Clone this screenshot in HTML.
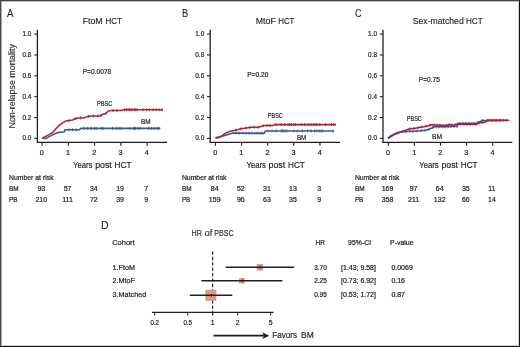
<!DOCTYPE html>
<html><head><meta charset="utf-8"><style>
html,body{margin:0;padding:0;background:#fff;}
body{width:520px;height:347px;overflow:hidden;position:relative;}
svg{position:absolute;left:0;top:0;will-change:transform;}
svg text{font-family:"Liberation Sans",sans-serif;fill:#231f20;stroke:#231f20;}
.b{position:absolute;}
</style></head><body>
<svg width="520" height="347" viewBox="0 0 520 347">
<text x="7" y="16.8" font-size="10.4" stroke-width="0.1" textLength="6.5" lengthAdjust="spacingAndGlyphs">A</text>
<text x="82.7" y="24.0" font-size="9.6" stroke-width="0.15" textLength="20.0" lengthAdjust="spacingAndGlyphs">FtoM</text>
<text x="105.4" y="24.0" font-size="9.6" stroke-width="0.15" textLength="16.4" lengthAdjust="spacingAndGlyphs">HCT</text>
<text x="82.7" y="73.5" font-size="7.6" stroke-width="0.22" textLength="28.6" lengthAdjust="spacingAndGlyphs">P=0.0078</text>
<line x1="37.4" y1="29.8" x2="37.4" y2="142.4" stroke="#231f20" stroke-width="1.3"/>
<line x1="34.2" y1="138.4" x2="37.4" y2="138.4" stroke="#231f20" stroke-width="1.1"/>
<text x="31.4" y="140.4" font-size="7.4" stroke-width="0.22" text-anchor="end" textLength="8.9" lengthAdjust="spacingAndGlyphs">0.0</text>
<line x1="34.2" y1="117.54" x2="37.4" y2="117.54" stroke="#231f20" stroke-width="1.1"/>
<text x="31.4" y="119.54" font-size="7.4" stroke-width="0.22" text-anchor="end" textLength="8.9" lengthAdjust="spacingAndGlyphs">0.2</text>
<line x1="34.2" y1="96.68" x2="37.4" y2="96.68" stroke="#231f20" stroke-width="1.1"/>
<text x="31.4" y="98.68" font-size="7.4" stroke-width="0.22" text-anchor="end" textLength="8.9" lengthAdjust="spacingAndGlyphs">0.4</text>
<line x1="34.2" y1="75.82" x2="37.4" y2="75.82" stroke="#231f20" stroke-width="1.1"/>
<text x="31.4" y="77.82" font-size="7.4" stroke-width="0.22" text-anchor="end" textLength="8.9" lengthAdjust="spacingAndGlyphs">0.6</text>
<line x1="34.2" y1="54.96" x2="37.4" y2="54.96" stroke="#231f20" stroke-width="1.1"/>
<text x="31.4" y="56.96" font-size="7.4" stroke-width="0.22" text-anchor="end" textLength="8.9" lengthAdjust="spacingAndGlyphs">0.8</text>
<line x1="34.2" y1="34.1" x2="37.4" y2="34.1" stroke="#231f20" stroke-width="1.1"/>
<text x="31.4" y="36.1" font-size="7.4" stroke-width="0.22" text-anchor="end" textLength="8.9" lengthAdjust="spacingAndGlyphs">1.0</text>
<line x1="36.75" y1="142.4" x2="167" y2="142.4" stroke="#231f20" stroke-width="1.3"/>
<line x1="42.1" y1="142.4" x2="42.1" y2="145.7" stroke="#231f20" stroke-width="1.1"/>
<text x="41.9" y="155.4" font-size="7.3" stroke-width="0.22" text-anchor="middle">0</text>
<line x1="68.35" y1="142.4" x2="68.35" y2="145.7" stroke="#231f20" stroke-width="1.1"/>
<text x="68.15" y="155.4" font-size="7.3" stroke-width="0.22" text-anchor="middle">1</text>
<line x1="94.6" y1="142.4" x2="94.6" y2="145.7" stroke="#231f20" stroke-width="1.1"/>
<text x="94.4" y="155.4" font-size="7.3" stroke-width="0.22" text-anchor="middle">2</text>
<line x1="120.85" y1="142.4" x2="120.85" y2="145.7" stroke="#231f20" stroke-width="1.1"/>
<text x="120.65" y="155.4" font-size="7.3" stroke-width="0.22" text-anchor="middle">3</text>
<line x1="147.1" y1="142.4" x2="147.1" y2="145.7" stroke="#231f20" stroke-width="1.1"/>
<text x="146.9" y="155.4" font-size="7.3" stroke-width="0.22" text-anchor="middle">4</text>
<text x="73.1" y="168.2" font-size="9.6" stroke-width="0.2" textLength="19.3" lengthAdjust="spacingAndGlyphs">Years</text>
<text x="95.2" y="168.2" font-size="9.6" stroke-width="0.2" textLength="16.6" lengthAdjust="spacingAndGlyphs">post</text>
<text x="114.6" y="168.2" font-size="9.6" stroke-width="0.2" textLength="16.8" lengthAdjust="spacingAndGlyphs">HCT</text>
<text x="9" y="179.8" font-size="7" stroke-width="0.22" textLength="44.6" lengthAdjust="spacingAndGlyphs">Number at risk</text>
<text x="9" y="190.8" font-size="7" stroke-width="0.22" textLength="9.6" lengthAdjust="spacingAndGlyphs">BM</text>
<text x="9" y="201.7" font-size="7" stroke-width="0.22" textLength="8.4" lengthAdjust="spacingAndGlyphs">PB</text>
<text x="41.3" y="190.8" font-size="7" stroke-width="0.22" text-anchor="middle">93</text>
<text x="41.3" y="201.7" font-size="7" stroke-width="0.22" text-anchor="middle">210</text>
<text x="67.55" y="190.8" font-size="7" stroke-width="0.22" text-anchor="middle">57</text>
<text x="67.55" y="201.7" font-size="7" stroke-width="0.22" text-anchor="middle">111</text>
<text x="93.8" y="190.8" font-size="7" stroke-width="0.22" text-anchor="middle">34</text>
<text x="93.8" y="201.7" font-size="7" stroke-width="0.22" text-anchor="middle">72</text>
<text x="120.05" y="190.8" font-size="7" stroke-width="0.22" text-anchor="middle">19</text>
<text x="120.05" y="201.7" font-size="7" stroke-width="0.22" text-anchor="middle">39</text>
<text x="146.3" y="190.8" font-size="7" stroke-width="0.22" text-anchor="middle">7</text>
<text x="146.3" y="201.7" font-size="7" stroke-width="0.22" text-anchor="middle">9</text>
<text x="182.0" y="16.8" font-size="10.4" stroke-width="0.1" textLength="6.2" lengthAdjust="spacingAndGlyphs">B</text>
<text x="255.8" y="24.0" font-size="9.6" stroke-width="0.15" textLength="20.0" lengthAdjust="spacingAndGlyphs">MtoF</text>
<text x="278.3" y="24.0" font-size="9.6" stroke-width="0.15" textLength="16.1" lengthAdjust="spacingAndGlyphs">HCT</text>
<text x="247.2" y="76.6" font-size="7.6" stroke-width="0.22" textLength="21.2" lengthAdjust="spacingAndGlyphs">P=0.20</text>
<line x1="210.2" y1="29.8" x2="210.2" y2="142.4" stroke="#231f20" stroke-width="1.3"/>
<line x1="207.0" y1="138.4" x2="210.2" y2="138.4" stroke="#231f20" stroke-width="1.1"/>
<text x="204.2" y="140.4" font-size="7.4" stroke-width="0.22" text-anchor="end" textLength="8.9" lengthAdjust="spacingAndGlyphs">0.0</text>
<line x1="207.0" y1="117.54" x2="210.2" y2="117.54" stroke="#231f20" stroke-width="1.1"/>
<text x="204.2" y="119.54" font-size="7.4" stroke-width="0.22" text-anchor="end" textLength="8.9" lengthAdjust="spacingAndGlyphs">0.2</text>
<line x1="207.0" y1="96.68" x2="210.2" y2="96.68" stroke="#231f20" stroke-width="1.1"/>
<text x="204.2" y="98.68" font-size="7.4" stroke-width="0.22" text-anchor="end" textLength="8.9" lengthAdjust="spacingAndGlyphs">0.4</text>
<line x1="207.0" y1="75.82" x2="210.2" y2="75.82" stroke="#231f20" stroke-width="1.1"/>
<text x="204.2" y="77.82" font-size="7.4" stroke-width="0.22" text-anchor="end" textLength="8.9" lengthAdjust="spacingAndGlyphs">0.6</text>
<line x1="207.0" y1="54.96" x2="210.2" y2="54.96" stroke="#231f20" stroke-width="1.1"/>
<text x="204.2" y="56.96" font-size="7.4" stroke-width="0.22" text-anchor="end" textLength="8.9" lengthAdjust="spacingAndGlyphs">0.8</text>
<line x1="207.0" y1="34.1" x2="210.2" y2="34.1" stroke="#231f20" stroke-width="1.1"/>
<text x="204.2" y="36.1" font-size="7.4" stroke-width="0.22" text-anchor="end" textLength="8.9" lengthAdjust="spacingAndGlyphs">1.0</text>
<line x1="209.55" y1="142.4" x2="340" y2="142.4" stroke="#231f20" stroke-width="1.3"/>
<line x1="215.5" y1="142.4" x2="215.5" y2="145.7" stroke="#231f20" stroke-width="1.1"/>
<text x="215.3" y="155.4" font-size="7.3" stroke-width="0.22" text-anchor="middle">0</text>
<line x1="241.6" y1="142.4" x2="241.6" y2="145.7" stroke="#231f20" stroke-width="1.1"/>
<text x="241.4" y="155.4" font-size="7.3" stroke-width="0.22" text-anchor="middle">1</text>
<line x1="267.7" y1="142.4" x2="267.7" y2="145.7" stroke="#231f20" stroke-width="1.1"/>
<text x="267.5" y="155.4" font-size="7.3" stroke-width="0.22" text-anchor="middle">2</text>
<line x1="293.8" y1="142.4" x2="293.8" y2="145.7" stroke="#231f20" stroke-width="1.1"/>
<text x="293.6" y="155.4" font-size="7.3" stroke-width="0.22" text-anchor="middle">3</text>
<line x1="319.9" y1="142.4" x2="319.9" y2="145.7" stroke="#231f20" stroke-width="1.1"/>
<text x="319.7" y="155.4" font-size="7.3" stroke-width="0.22" text-anchor="middle">4</text>
<text x="246.5" y="168.2" font-size="9.6" stroke-width="0.2" textLength="19.3" lengthAdjust="spacingAndGlyphs">Years</text>
<text x="268.6" y="168.2" font-size="9.6" stroke-width="0.2" textLength="16.6" lengthAdjust="spacingAndGlyphs">post</text>
<text x="288.0" y="168.2" font-size="9.6" stroke-width="0.2" textLength="16.8" lengthAdjust="spacingAndGlyphs">HCT</text>
<text x="181.9" y="179.8" font-size="7" stroke-width="0.22" textLength="44.6" lengthAdjust="spacingAndGlyphs">Number at risk</text>
<text x="181.9" y="190.8" font-size="7" stroke-width="0.22" textLength="9.6" lengthAdjust="spacingAndGlyphs">BM</text>
<text x="181.9" y="201.7" font-size="7" stroke-width="0.22" textLength="8.4" lengthAdjust="spacingAndGlyphs">PB</text>
<text x="214.7" y="190.8" font-size="7" stroke-width="0.22" text-anchor="middle">84</text>
<text x="214.7" y="201.7" font-size="7" stroke-width="0.22" text-anchor="middle">159</text>
<text x="240.8" y="190.8" font-size="7" stroke-width="0.22" text-anchor="middle">52</text>
<text x="240.8" y="201.7" font-size="7" stroke-width="0.22" text-anchor="middle">96</text>
<text x="266.9" y="190.8" font-size="7" stroke-width="0.22" text-anchor="middle">31</text>
<text x="266.9" y="201.7" font-size="7" stroke-width="0.22" text-anchor="middle">63</text>
<text x="293.0" y="190.8" font-size="7" stroke-width="0.22" text-anchor="middle">13</text>
<text x="293.0" y="201.7" font-size="7" stroke-width="0.22" text-anchor="middle">35</text>
<text x="319.1" y="190.8" font-size="7" stroke-width="0.22" text-anchor="middle">3</text>
<text x="319.1" y="201.7" font-size="7" stroke-width="0.22" text-anchor="middle">9</text>
<text x="354.9" y="16.8" font-size="10.4" stroke-width="0.1" textLength="6.5" lengthAdjust="spacingAndGlyphs">C</text>
<text x="412.8" y="24.0" font-size="9.6" stroke-width="0.15" textLength="50.9" lengthAdjust="spacingAndGlyphs">Sex-matched</text>
<text x="465.9" y="24.0" font-size="9.6" stroke-width="0.15" textLength="16.7" lengthAdjust="spacingAndGlyphs">HCT</text>
<text x="418.8" y="81.6" font-size="7.6" stroke-width="0.22" textLength="21.2" lengthAdjust="spacingAndGlyphs">P=0.75</text>
<line x1="383.0" y1="29.8" x2="383.0" y2="142.4" stroke="#231f20" stroke-width="1.3"/>
<line x1="379.8" y1="138.4" x2="383.0" y2="138.4" stroke="#231f20" stroke-width="1.1"/>
<text x="377.0" y="140.4" font-size="7.4" stroke-width="0.22" text-anchor="end" textLength="8.9" lengthAdjust="spacingAndGlyphs">0.0</text>
<line x1="379.8" y1="117.54" x2="383.0" y2="117.54" stroke="#231f20" stroke-width="1.1"/>
<text x="377.0" y="119.54" font-size="7.4" stroke-width="0.22" text-anchor="end" textLength="8.9" lengthAdjust="spacingAndGlyphs">0.2</text>
<line x1="379.8" y1="96.68" x2="383.0" y2="96.68" stroke="#231f20" stroke-width="1.1"/>
<text x="377.0" y="98.68" font-size="7.4" stroke-width="0.22" text-anchor="end" textLength="8.9" lengthAdjust="spacingAndGlyphs">0.4</text>
<line x1="379.8" y1="75.82" x2="383.0" y2="75.82" stroke="#231f20" stroke-width="1.1"/>
<text x="377.0" y="77.82" font-size="7.4" stroke-width="0.22" text-anchor="end" textLength="8.9" lengthAdjust="spacingAndGlyphs">0.6</text>
<line x1="379.8" y1="54.96" x2="383.0" y2="54.96" stroke="#231f20" stroke-width="1.1"/>
<text x="377.0" y="56.96" font-size="7.4" stroke-width="0.22" text-anchor="end" textLength="8.9" lengthAdjust="spacingAndGlyphs">0.8</text>
<line x1="379.8" y1="34.1" x2="383.0" y2="34.1" stroke="#231f20" stroke-width="1.1"/>
<text x="377.0" y="36.1" font-size="7.4" stroke-width="0.22" text-anchor="end" textLength="8.9" lengthAdjust="spacingAndGlyphs">1.0</text>
<line x1="382.35" y1="142.4" x2="512.3" y2="142.4" stroke="#231f20" stroke-width="1.3"/>
<line x1="388.3" y1="142.4" x2="388.3" y2="145.7" stroke="#231f20" stroke-width="1.1"/>
<text x="388.1" y="155.4" font-size="7.3" stroke-width="0.22" text-anchor="middle">0</text>
<line x1="414.4" y1="142.4" x2="414.4" y2="145.7" stroke="#231f20" stroke-width="1.1"/>
<text x="414.2" y="155.4" font-size="7.3" stroke-width="0.22" text-anchor="middle">1</text>
<line x1="440.5" y1="142.4" x2="440.5" y2="145.7" stroke="#231f20" stroke-width="1.1"/>
<text x="440.3" y="155.4" font-size="7.3" stroke-width="0.22" text-anchor="middle">2</text>
<line x1="466.6" y1="142.4" x2="466.6" y2="145.7" stroke="#231f20" stroke-width="1.1"/>
<text x="466.4" y="155.4" font-size="7.3" stroke-width="0.22" text-anchor="middle">3</text>
<line x1="492.7" y1="142.4" x2="492.7" y2="145.7" stroke="#231f20" stroke-width="1.1"/>
<text x="492.5" y="155.4" font-size="7.3" stroke-width="0.22" text-anchor="middle">4</text>
<text x="419.3" y="168.2" font-size="9.6" stroke-width="0.2" textLength="19.3" lengthAdjust="spacingAndGlyphs">Years</text>
<text x="441.4" y="168.2" font-size="9.6" stroke-width="0.2" textLength="16.6" lengthAdjust="spacingAndGlyphs">post</text>
<text x="460.8" y="168.2" font-size="9.6" stroke-width="0.2" textLength="16.8" lengthAdjust="spacingAndGlyphs">HCT</text>
<text x="354.9" y="179.8" font-size="7" stroke-width="0.22" textLength="44.6" lengthAdjust="spacingAndGlyphs">Number at risk</text>
<text x="354.9" y="190.8" font-size="7" stroke-width="0.22" textLength="9.6" lengthAdjust="spacingAndGlyphs">BM</text>
<text x="354.9" y="201.7" font-size="7" stroke-width="0.22" textLength="8.4" lengthAdjust="spacingAndGlyphs">PB</text>
<text x="387.5" y="190.8" font-size="7" stroke-width="0.22" text-anchor="middle">169</text>
<text x="387.5" y="201.7" font-size="7" stroke-width="0.22" text-anchor="middle">358</text>
<text x="413.6" y="190.8" font-size="7" stroke-width="0.22" text-anchor="middle">97</text>
<text x="413.6" y="201.7" font-size="7" stroke-width="0.22" text-anchor="middle">211</text>
<text x="439.7" y="190.8" font-size="7" stroke-width="0.22" text-anchor="middle">64</text>
<text x="439.7" y="201.7" font-size="7" stroke-width="0.22" text-anchor="middle">132</text>
<text x="465.8" y="190.8" font-size="7" stroke-width="0.22" text-anchor="middle">35</text>
<text x="465.8" y="201.7" font-size="7" stroke-width="0.22" text-anchor="middle">66</text>
<text x="491.9" y="190.8" font-size="7" stroke-width="0.22" text-anchor="middle">11</text>
<text x="491.9" y="201.7" font-size="7" stroke-width="0.22" text-anchor="middle">14</text>
<text x="0" y="0" font-size="9.5" stroke-width="0.12" transform="translate(15.2,128.5) rotate(-90)" textLength="84.4" lengthAdjust="spacingAndGlyphs">Non-relapse mortality</text>
<polyline points="43.2,138.6 46.0,138.4 50.7,135.9 55.3,133.5 59.9,132.2 63.6,132.1 64.5,131.6 65.0,129.8 79.4,129.8 80.6,128.4 160.3,128.4" fill="none" stroke="#375a8e" stroke-width="1.55" stroke-linejoin="round"/>
<path d="M69.0 128.3v3M72.6 128.3v3M76.0 128.3v3M84.1 126.9v3M87.6 126.9v3M91.0 126.9v3M94.5 126.9v3M96.3 126.9v3M101.7 126.9v3M103.1 126.9v3M112.5 126.9v3M116.5 126.9v3M119.2 126.9v3M121.2 126.9v3M129.4 126.9v3M133.4 126.9v3M134.0 126.9v3M135.4 126.9v3M138.1 126.9v3M140.1 126.9v3M148.8 126.9v3M151.5 126.9v3M154.2 126.9v3M156.9 126.9v3M158.9 126.9v3" stroke="#375a8e" stroke-width="0.9" fill="none"/>
<polyline points="42.0,138.4 49.5,134.4 53.0,132.1 57.6,126.9 62.2,123.2 65.7,121.1 69.1,120.6 72.6,120.0 74.9,118.8 78.4,117.9 84.1,117.9 87.6,116.5 93.4,116.0 100.4,115.9 102.4,114.5 105.8,113.5 108.5,111.0 111.2,110.5 121.2,110.5 123.3,109.7 163.0,109.7" fill="none" stroke="#a32539" stroke-width="1.55" stroke-linejoin="round"/>
<path d="M68.6 119.2v3M76.0 117.0v3M80.7 116.4v3M88.7 114.9v3M93.4 114.5v3M98.0 114.4v3M101.0 114.0v3M106.0 111.8v3M113.0 109.0v3M117.0 109.0v3M124.6 108.2v3M126.3 108.2v3M128.0 108.2v3M129.4 108.2v3M130.9 108.2v3M132.3 108.2v3M134.7 108.2v3M135.7 108.2v3M137.1 108.2v3M142.9 108.2v3M146.7 108.2v3M149.6 108.2v3M153.0 108.2v3M156.3 108.2v3M159.2 108.2v3M162.1 108.2v3" stroke="#a32539" stroke-width="0.9" fill="none"/>
<polyline points="215.4,137.8 220.8,136.6 224.8,135.6 228.8,134.2 232.9,133.1 264.5,133.2 265.2,130.9 334.0,130.9" fill="none" stroke="#375a8e" stroke-width="1.55" stroke-linejoin="round"/>
<path d="M236.0 131.6v3M239.0 131.6v3M243.0 131.6v3M246.0 131.6v3M249.0 131.7v3M252.0 131.7v3M255.0 131.7v3M257.0 131.7v3M259.0 131.7v3M261.0 131.7v3M263.0 131.7v3M268.0 129.4v3M272.0 129.4v3M276.0 129.4v3M281.2 129.4v3M282.3 129.4v3M283.5 129.4v3M285.2 129.4v3M286.9 129.4v3M293.8 129.4v3M297.3 129.4v3M302.5 129.4v3M307.7 129.4v3M311.1 129.4v3M314.6 129.4v3M316.9 129.4v3M319.2 129.4v3M320.9 129.4v3M322.7 129.4v3M333.0 129.4v3" stroke="#375a8e" stroke-width="0.9" fill="none"/>
<polyline points="215.4,138.3 219.4,137.6 222.1,135.6 226.2,132.9 230.2,131.3 235.6,130.2 241.0,128.8 246.3,127.9 251.7,127.2 258.5,127.2 262.5,125.9 264.6,125.5 272.7,125.5 274.4,124.6 336.0,124.6" fill="none" stroke="#a32539" stroke-width="1.55" stroke-linejoin="round"/>
<path d="M236.0 128.6v3M241.0 127.3v3M246.0 126.5v3M250.0 125.9v3M254.0 125.7v3M258.0 125.7v3M263.0 124.3v3M267.0 124.0v3M270.0 124.0v3M276.0 123.1v3M281.2 123.1v3M284.6 123.1v3M288.1 123.1v3M289.8 123.1v3M291.5 123.1v3M293.8 123.1v3M295.6 123.1v3M301.3 123.1v3M304.8 123.1v3M308.3 123.1v3M311.1 123.1v3M313.4 123.1v3M315.2 123.1v3M316.9 123.1v3M319.8 123.1v3M325.6 123.1v3M331.3 123.1v3M333.6 123.1v3" stroke="#a32539" stroke-width="0.9" fill="none"/>
<polyline points="388.4,138.3 393.8,134.9 400.5,132.2 408.6,131.3 412.6,131.3 418.0,130.9 426.1,130.2 431.5,128.2 434.1,126.8 445.0,126.8 457.1,126.3 458.1,123.5 476.7,123.3 480.7,121.3 482.3,120.3 484.7,120.6 487.2,120.5 504.2,120.5" fill="none" stroke="#375a8e" stroke-width="1.55" stroke-linejoin="round"/>
<path d="M406.0 130.1v3M410.0 129.8v3M413.0 129.8v3M417.0 129.5v3M421.0 129.1v3M425.0 128.8v3M429.0 127.6v3M433.0 125.9v3M436.0 125.3v3M439.0 125.3v3M442.0 125.3v3M445.0 125.3v3M448.0 125.2v3M451.0 125.1v3M454.0 124.9v3M457.0 124.8v3M460.0 122.0v3M463.0 121.9v3M466.0 121.9v3M469.0 121.9v3M472.0 121.9v3M475.0 121.8v3M478.0 121.1v3M482.0 119.0v3M488.0 119.0v3M492.0 119.0v3M496.0 119.0v3M500.0 119.0v3" stroke="#375a8e" stroke-width="0.9" fill="none"/>
<polyline points="387.7,138.3 391.1,135.6 396.5,132.9 403.2,130.9 409.9,128.8 415.3,128.2 420.7,127.2 427.4,125.9 431.5,124.8 445.0,125.5 450.0,124.6 453.2,125.2 457.3,124.1 476.7,124.1 478.3,122.9 482.3,122.5 485.5,122.1 487.2,120.2 509.2,120.2" fill="none" stroke="#a32539" stroke-width="1.55" stroke-linejoin="round"/>
<path d="M410.0 127.3v3M414.0 126.8v3M418.0 126.2v3M422.0 125.4v3M426.0 124.7v3M430.0 123.7v3M434.0 123.4v3M437.0 123.6v3M440.0 123.7v3M443.0 123.9v3M446.0 123.8v3M449.0 123.3v3M452.0 123.5v3M455.0 123.2v3M458.0 122.6v3M461.0 122.6v3M464.0 122.6v3M467.0 122.6v3M470.0 122.6v3M473.0 122.6v3M476.0 122.6v3M479.0 121.3v3M483.0 120.9v3M488.0 118.7v3M491.0 118.7v3M494.0 118.7v3M497.0 118.7v3M500.0 118.7v3M503.0 118.7v3M506.0 118.7v3" stroke="#a32539" stroke-width="0.9" fill="none"/>
<text x="96.9" y="105.8" font-size="7.4" stroke-width="0.22" textLength="15.3" lengthAdjust="spacingAndGlyphs">PBSC</text>
<text x="141.1" y="123.9" font-size="7.4" stroke-width="0.22" textLength="9.6" lengthAdjust="spacingAndGlyphs">BM</text>
<text x="267.8" y="118.3" font-size="7.4" stroke-width="0.22" textLength="15" lengthAdjust="spacingAndGlyphs">PBSC</text>
<text x="296.9" y="140.2" font-size="7.4" stroke-width="0.22" textLength="9.3" lengthAdjust="spacingAndGlyphs">BM</text>
<text x="406.8" y="120.6" font-size="7.4" stroke-width="0.22" textLength="15" lengthAdjust="spacingAndGlyphs">PBSC</text>
<text x="432" y="138.7" font-size="7.4" stroke-width="0.22" textLength="10" lengthAdjust="spacingAndGlyphs">BM</text>
<text x="101.0" y="228.5" font-size="10.4" stroke-width="0.1" textLength="7.6" lengthAdjust="spacingAndGlyphs">D</text>
<text x="112.2" y="245.4" font-size="7.6" stroke-width="0.22" textLength="22.5" lengthAdjust="spacingAndGlyphs">Cohort</text>
<text x="191.5" y="236.1" font-size="8.9" stroke-width="0.12" textLength="10.5" lengthAdjust="spacingAndGlyphs">HR</text>
<text x="204.5" y="236.1" font-size="8.9" stroke-width="0.12" textLength="8.0" lengthAdjust="spacingAndGlyphs">of</text>
<text x="214.3" y="236.1" font-size="8.9" stroke-width="0.12" textLength="19.5" lengthAdjust="spacingAndGlyphs">PBSC</text>
<text x="315.5" y="245.1" font-size="7" stroke-width="0.22" textLength="9.4" lengthAdjust="spacingAndGlyphs">HR</text>
<text x="348.1" y="245.1" font-size="7" stroke-width="0.22" textLength="23.1" lengthAdjust="spacingAndGlyphs">95%-CI</text>
<text x="390" y="245.1" font-size="7" stroke-width="0.22" textLength="23.6" lengthAdjust="spacingAndGlyphs">P-value</text>
<line x1="212.6" y1="251.4" x2="212.6" y2="315.2" stroke="#2a2a2a" stroke-width="1.2" stroke-dasharray="3.4 2"/>
<text x="112.6" y="269.6" font-size="7.4" stroke-width="0.22" textLength="22.5" lengthAdjust="spacingAndGlyphs">1.FtoM</text>
<text x="314.2" y="269.6" font-size="7" stroke-width="0.22" textLength="12.6" lengthAdjust="spacingAndGlyphs">3.70</text>
<text x="341.1" y="269.6" font-size="7" stroke-width="0.22" textLength="34.8" lengthAdjust="spacingAndGlyphs">[1.43; 9.58]</text>
<text x="391.4" y="269.6" font-size="7" stroke-width="0.22">0.0069</text>
<rect x="256.61" y="264.05" width="6.5" height="6.5" fill="#d9978a"/>
<text x="112.6" y="283.2" font-size="7.4" stroke-width="0.22" textLength="22.4" lengthAdjust="spacingAndGlyphs">2.MtoF</text>
<text x="314.2" y="283.2" font-size="7" stroke-width="0.22" textLength="12.6" lengthAdjust="spacingAndGlyphs">2.25</text>
<text x="341.1" y="283.2" font-size="7" stroke-width="0.22" textLength="34.8" lengthAdjust="spacingAndGlyphs">[0.73; 6.92]</text>
<text x="391.4" y="283.2" font-size="7" stroke-width="0.22">0.16</text>
<rect x="239.13" y="278.00" width="5.6" height="5.6" fill="#d9978a"/>
<text x="112.6" y="297.3" font-size="7.4" stroke-width="0.22" textLength="33.6" lengthAdjust="spacingAndGlyphs">3.Matched</text>
<text x="314.2" y="297.3" font-size="7" stroke-width="0.22" textLength="12.6" lengthAdjust="spacingAndGlyphs">0.95</text>
<text x="341.1" y="297.3" font-size="7" stroke-width="0.22" textLength="34.8" lengthAdjust="spacingAndGlyphs">[0.53; 1.72]</text>
<text x="391.4" y="297.3" font-size="7" stroke-width="0.22">0.87</text>
<rect x="205.35" y="289.80" width="11" height="11" fill="#d9978a"/>
<line x1="225.59" y1="267.3" x2="294.15" y2="267.3" stroke="#231f20" stroke-width="1.4"/>
<line x1="260.46" y1="266.1" x2="260.46" y2="268.5" stroke="#231f20" stroke-width="1.0"/>
<line x1="201.36" y1="280.8" x2="282.43" y2="280.8" stroke="#231f20" stroke-width="1.4"/>
<line x1="242.53" y1="279.6" x2="242.53" y2="282.0" stroke="#231f20" stroke-width="1.0"/>
<line x1="189.81" y1="295.3" x2="232.25" y2="295.3" stroke="#231f20" stroke-width="1.4"/>
<line x1="211.45" y1="294.1" x2="211.45" y2="296.5" stroke="#231f20" stroke-width="1.0"/>
<line x1="151.9" y1="312.4" x2="273.5" y2="312.4" stroke="#231f20" stroke-width="1.15"/>
<line x1="154.69" y1="312.4" x2="154.69" y2="315.6" stroke="#231f20" stroke-width="1.0"/>
<text x="154.69" y="324.8" font-size="6.9" stroke-width="0.22" text-anchor="middle" textLength="8.6" lengthAdjust="spacingAndGlyphs">0.2</text>
<line x1="187.71" y1="312.4" x2="187.71" y2="315.6" stroke="#231f20" stroke-width="1.0"/>
<text x="187.71" y="324.8" font-size="6.9" stroke-width="0.22" text-anchor="middle" textLength="8.6" lengthAdjust="spacingAndGlyphs">0.5</text>
<line x1="212.7" y1="312.4" x2="212.7" y2="315.6" stroke="#231f20" stroke-width="1.0"/>
<text x="212.7" y="324.8" font-size="6.9" stroke-width="0.22" text-anchor="middle">1</text>
<line x1="237.69" y1="312.4" x2="237.69" y2="315.6" stroke="#231f20" stroke-width="1.0"/>
<text x="237.69" y="324.8" font-size="6.9" stroke-width="0.22" text-anchor="middle">2</text>
<line x1="270.71" y1="312.4" x2="270.71" y2="315.6" stroke="#231f20" stroke-width="1.0"/>
<text x="270.71" y="324.8" font-size="6.9" stroke-width="0.22" text-anchor="middle">5</text>
<line x1="213.5" y1="335.7" x2="265" y2="335.7" stroke="#151e34" stroke-width="1.8"/>
<polygon points="262.3,332.3 269.2,335.7 262.3,339.0 264.0,335.7" fill="#151e34"/>
<text x="272.2" y="338.0" font-size="9.5" stroke-width="0.2" textLength="24.8" lengthAdjust="spacingAndGlyphs">Favors</text>
<text x="301.1" y="338.0" font-size="9.5" stroke-width="0.2" textLength="12.6" lengthAdjust="spacingAndGlyphs">BM</text>
</svg>
<div class="b" style="left:0;top:0;width:520px;height:1px;background:#444"></div>
<div class="b" style="left:0;top:1px;width:520px;height:1px;background:#bbb"></div>
<div class="b" style="left:0;top:0;width:1px;height:347px;background:#4a4a4a"></div>
<div class="b" style="left:1px;top:1px;width:1px;height:346px;background:#aaa"></div>
<div class="b" style="left:519px;top:0;width:1px;height:347px;background:#111"></div>
<div class="b" style="left:518px;top:1px;width:1px;height:345px;background:#d4d4d4"></div>
<div class="b" style="left:0;top:346px;width:520px;height:1px;background:#111"></div>
<div class="b" style="left:1px;top:345px;width:518px;height:1px;background:#d4d4d4"></div>
</body></html>
